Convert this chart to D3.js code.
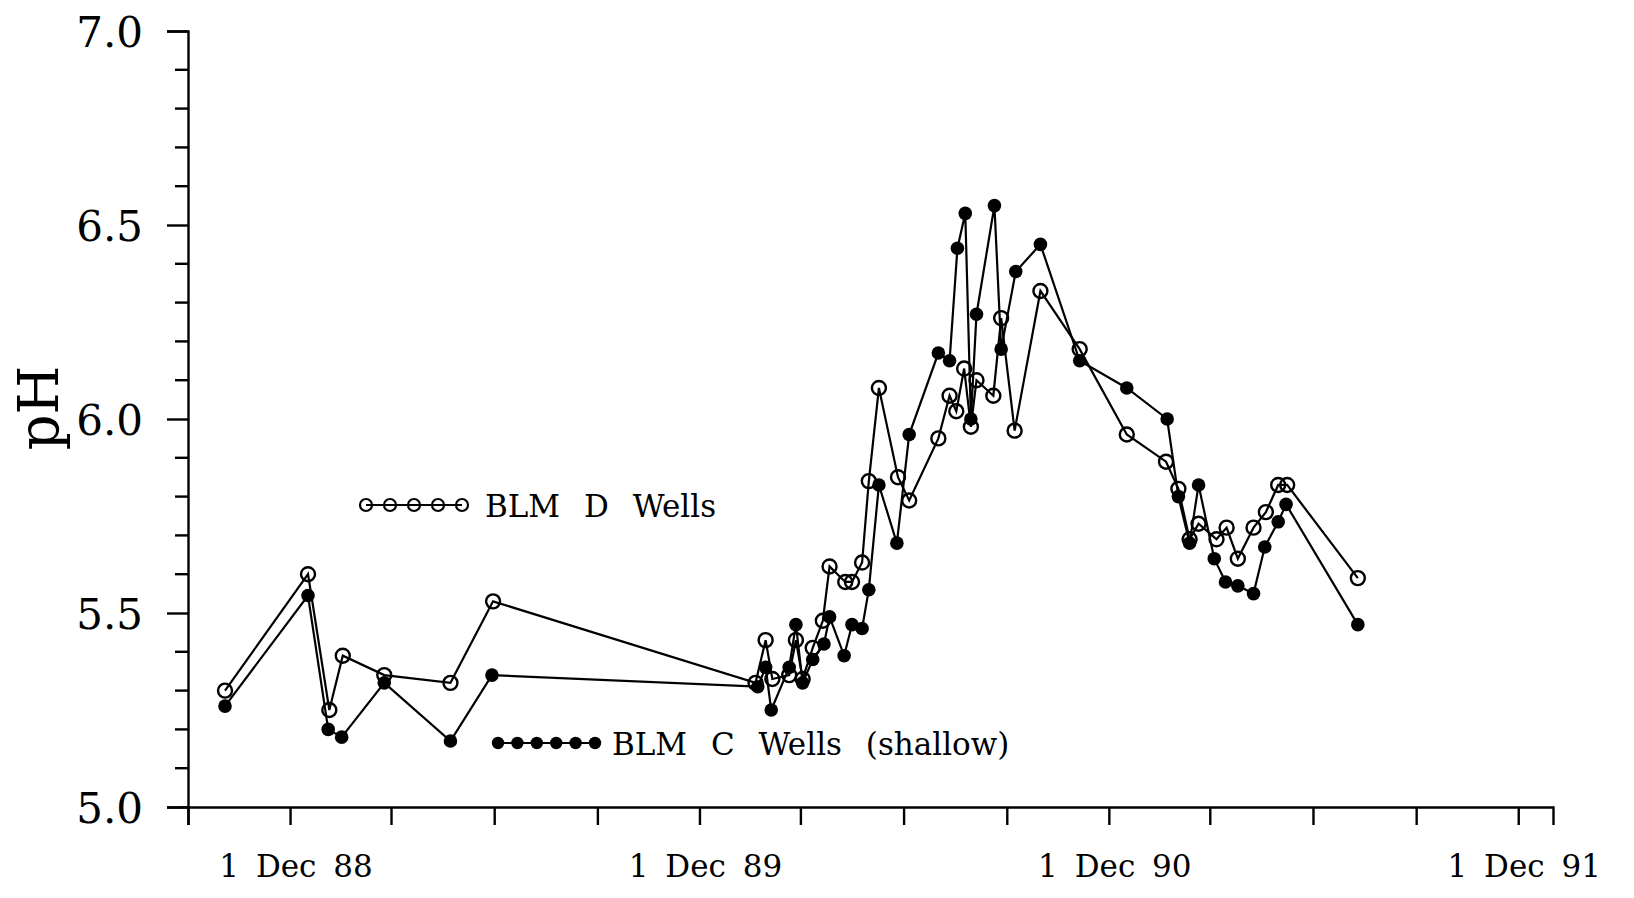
<!DOCTYPE html>
<html>
<head>
<meta charset="utf-8">
<script src="https://d3js.org/d3.v7.min.js"></script>
<style>
  html, body { margin: 0; padding: 0; background: #fff; }
  svg { display: block; }
  text { font-family: "DejaVu Serif", "Liberation Serif", serif; fill: #000; }
</style>
</head>
<body>
<svg id="chart"></svg>
<script>
// BLM D Wells (open circles)
const datesD = [
  "1988-10-04", "1988-12-17", "1989-01-05", "1989-01-17", "1989-02-23", "1989-04-23", "1989-05-31",
  "1990-01-20", "1990-01-29", "1990-02-04", "1990-02-19", "1990-02-25", "1990-03-03", "1990-03-12",
  "1990-03-21", "1990-03-27", "1990-04-10", "1990-04-16", "1990-04-25", "1990-05-01", "1990-05-10",
  "1990-05-27", "1990-06-06", "1990-07-02", "1990-07-12", "1990-07-18", "1990-07-25", "1990-07-31",
  "1990-08-05", "1990-08-20", "1990-08-27", "1990-09-08", "1990-10-01", "1990-11-05", "1990-12-17",
  "1991-01-21", "1991-02-01", "1991-02-11", "1991-02-19", "1991-03-07", "1991-03-16", "1991-03-26",
  "1991-04-09", "1991-04-20", "1991-05-01", "1991-05-09", "1991-07-11"
];
const phD = [
  5.30, 5.60, 5.25, 5.39, 5.34, 5.32, 5.53,
  5.32, 5.43, 5.33, 5.34, 5.43, 5.33, 5.41,
  5.48, 5.62, 5.58, 5.58, 5.63, 5.84, 6.08,
  5.85, 5.79, 5.95, 6.06, 6.02, 6.13, 5.98,
  6.10, 6.06, 6.26, 5.97, 6.33, 6.18, 5.96,
  5.89, 5.82, 5.69, 5.73, 5.69, 5.72, 5.64,
  5.72, 5.76, 5.83, 5.83, 5.59
];

// BLM C Wells (shallow), filled circles
const datesC = [
  "1988-10-04", "1988-12-17", "1989-01-04", "1989-01-16", "1989-02-23", "1989-04-23", "1989-05-30",
  "1990-01-22", "1990-01-29", "1990-02-03", "1990-02-19", "1990-02-25", "1990-03-03", "1990-03-12",
  "1990-03-22", "1990-03-27", "1990-04-09", "1990-04-16", "1990-04-25", "1990-05-01", "1990-05-10",
  "1990-05-26", "1990-06-06", "1990-07-02", "1990-07-12", "1990-07-19", "1990-07-26", "1990-07-31",
  "1990-08-05", "1990-08-21", "1990-08-27", "1990-09-09", "1990-10-01", "1990-11-05", "1990-12-17",
  "1991-01-22", "1991-02-01", "1991-02-11", "1991-02-19", "1991-03-05", "1991-03-15", "1991-03-26",
  "1991-04-09", "1991-04-19", "1991-05-01", "1991-05-08", "1991-07-11"
];
const phC = [
  5.26, 5.545, 5.20, 5.18, 5.32, 5.17, 5.34,
  5.31, 5.36, 5.25, 5.36, 5.47, 5.32, 5.38,
  5.42, 5.49, 5.39, 5.47, 5.46, 5.56, 5.83,
  5.68, 5.96, 6.17, 6.15, 6.44, 6.53, 6.00,
  6.27, 6.55, 6.18, 6.38, 6.45, 6.15, 6.08,
  6.00, 5.80, 5.68, 5.83, 5.64, 5.58, 5.57,
  5.55, 5.67, 5.735, 5.78, 5.47
];

// axis ticks and labels
const yLabelTicks = [5.0, 5.5, 6.0, 6.5, 7.0];
const yMinorTicks = [5.1, 5.2, 5.3, 5.4, 5.6, 5.7, 5.8, 5.9, 6.1, 6.2, 6.3, 6.4, 6.6, 6.7, 6.8, 6.9];
const xLabelTicks = ["1988-12-01", "1989-12-01", "1990-12-01", "1991-12-01"];
const xLabels = ["1 Dec 88", "1 Dec 89", "1 Dec 90", "1 Dec 91"];
const legendNames = ["BLM D Wells", "BLM C Wells (shallow)"];

const width = 1634, height = 898;
const parse = d3.timeParse("%Y-%m-%d");

const svg = d3.select("#chart").attr("width", width).attr("height", height);
svg.append("rect").attr("width", width).attr("height", height).attr("fill", "#fff");

const x = d3.scaleTime()
  .domain([parse("1988-09-01"), parse("1992-01-01")])
  .range([188, 1553]);

const y = d3.scaleLinear().domain([5, 7]).range([807, 31]);

// quarterly ticks, Sep 88 .. Dec 91
const quarterTicks = d3.timeMonth.range(parse("1988-09-01"), parse("1991-12-02"), 3);

// x axis
const gx = svg.append("g")
  .attr("transform", `translate(0,${y(5)})`)
  .call(d3.axisBottom(x).tickValues(quarterTicks).tickSizeOuter(0).tickSize(18).tickFormat(""));

gx.selectAll("text").remove();
gx.append("path")
  .attr("d", `M${x.range()[0] - 8},0H${x.range()[0]}`)
  .attr("stroke", "#000");

gx.selectAll(".xlab")
  .data(xLabelTicks)
  .enter()
  .append("text")
  .attr("class", "xlab")
  .attr("x", d => x(parse(d)) + 6)
  .attr("y", 70)
  .attr("text-anchor", "middle")
  .style("font-size", "31px")
  .style("word-spacing", "7px")
  .text((d, i) => xLabels[i]);

// y axis
const gy = svg.append("g")
  .attr("transform", `translate(${x.range()[0]},0)`)
  .call(d3.axisLeft(y).tickValues(yLabelTicks).tickSizeOuter(0).tickSize(21).tickPadding(24)
    .tickFormat(d3.format(".1f")));

gy.selectAll(".tick text")
  .style("font-size", "42px")
  .style("font-family", "'DejaVu Serif', serif")
  .attr("dy", "0.36em");

gy.selectAll(".minor")
  .data(yMinorTicks)
  .enter()
  .append("line")
  .attr("class", "minor")
  .attr("x1", -13)
  .attr("x2", 0)
  .attr("y1", d => y(d))
  .attr("y2", d => y(d))
  .attr("stroke", "#000");

svg.selectAll(".domain, .tick line, .minor").attr("stroke-width", 2.4).attr("stroke", "#000");

// y label
svg.append("text")
  .attr("transform", "translate(58,408) rotate(-90)")
  .attr("text-anchor", "middle")
  .style("font-size", "56px")
  .text("pH");

// series
const seriesD = datesD.map((d, i) => ({ date: parse(d), ph: phD[i] }));
const seriesC = datesC.map((d, i) => ({ date: parse(d), ph: phC[i] }));

const line = d3.line()
  .x(d => x(d.date))
  .y(d => y(d.ph));

[seriesD, seriesC].forEach(s => {
  svg.append("path")
    .datum(s)
    .attr("d", line)
    .attr("fill", "none")
    .attr("stroke", "#000")
    .attr("stroke-width", 2.2);
});

svg.selectAll(".ptC")
  .data(seriesC)
  .enter()
  .append("circle")
  .attr("class", "ptC")
  .attr("cx", d => x(d.date))
  .attr("cy", d => y(d.ph))
  .attr("r", 6.8)
  .attr("fill", "#000");

svg.selectAll(".ptD")
  .data(seriesD)
  .enter()
  .append("circle")
  .attr("class", "ptD")
  .attr("cx", d => x(d.date))
  .attr("cy", d => y(d.ph))
  .attr("r", 7)
  .attr("fill", "none")
  .attr("stroke", "#000")
  .attr("stroke-width", 2.4);

// legends
const legends = [
  { name: legendNames[0], x0: 366, step: 24, n: 5, cy: 505, open: true, tx: 485, ty: 517 },
  { name: legendNames[1], x0: 498, step: 19.4, n: 6, cy: 743, open: false, tx: 612, ty: 755 }
];

legends.forEach(l => {
  const g = svg.append("g");
  const xs = d3.range(l.n).map(i => l.x0 + i * l.step);
  g.append("line")
    .attr("x1", xs[0]).attr("x2", xs[xs.length - 1])
    .attr("y1", l.cy).attr("y2", l.cy)
    .attr("stroke", "#000").attr("stroke-width", 2.2);
  g.selectAll("circle")
    .data(xs)
    .enter()
    .append("circle")
    .attr("cx", d => d)
    .attr("cy", l.cy)
    .attr("r", l.open ? 6 : 6.2)
    .attr("fill", l.open ? "none" : "#000")
    .attr("stroke", "#000")
    .attr("stroke-width", l.open ? 2.2 : 0);
  g.append("text")
    .attr("x", l.tx)
    .attr("y", l.ty)
    .style("font-size", "31px")
    .style("word-spacing", "14px")
    .text(l.name);
});
</script>
</body>
</html>
